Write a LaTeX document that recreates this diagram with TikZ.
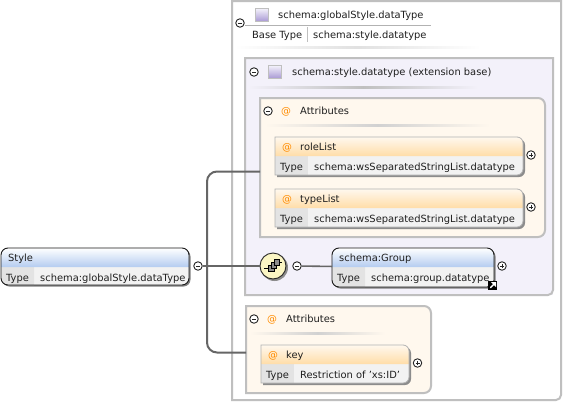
\documentclass[tikz,border=0pt]{standalone}
\usepackage{fontspec}
\setmainfont{DejaVu Sans}
\definecolor{headblue}{HTML}{B4CCF0}
\definecolor{headorange}{HTML}{FFDDA8}
\definecolor{attrfill}{HTML}{FFF8EE}
\definecolor{extfill}{HTML}{F3F1FA}
\definecolor{iconviolet}{HTML}{A898D4}
\definecolor{seqcream}{HTML}{FBF6C4}
\tikzset{
    x=1pt, y=-1pt,
    label/.style={inner sep=0pt, anchor=base west, yshift=-3.5pt, text=black!88, font=\fontsize{9.9}{11}\selectfont},
    atsign/.style={inner sep=0pt, anchor=base, yshift=-3.5pt, text=orange!90!yellow, font=\fontsize{9.9}{11}\selectfont},
    togglecirc/.style={circle, draw=black!85, fill=white, line width=0.9pt, minimum size=8.5pt, inner sep=0pt},
    boxnode/.style={inner sep=0pt, outer sep=0pt, anchor=north west},
    bus/.style={draw=black!60, line width=2pt},
    thinbus/.style={draw=black!60, line width=1.6pt},
    panel/.style={draw=black!25, line width=2pt},
}
\newcommand{\minusat}[2]{%
    \node[togglecirc] (#1) at (#2) {};
    \draw[black!85, line width=0.7pt] ([xshift=-2pt]#1.center) -- ([xshift=2pt]#1.center);
}
\newcommand{\plusat}[2]{%
    \node[togglecirc] (#1) at (#2) {};
    \draw[black!85, line width=0.7pt] ([xshift=-2pt]#1.center) -- ([xshift=2pt]#1.center);
    \draw[black!85, line width=0.7pt] ([yshift=-2pt]#1.center) -- ([yshift=2pt]#1.center);
}
\newcommand{\typeicon}[2]{%
    \node[boxnode, anchor=center, minimum size=13pt, draw=black!25, line width=0.6pt, top color=extfill, bottom color=iconviolet] (#1) at (#2) {};
}
% name, x, y, width, type cell width, title, value
\newcommand{\attrbox}[7]{%
    \begin{scope}[shift={(#2,#3)}]
        \fill[black!45] (2,2) [rounded corners=6pt] -- (#4+2,2) -- (#4+2,40) [sharp corners] -- (2,40) -- cycle;
        \fill[black!5] (0,19) -- (#4,19) [rounded corners=6pt] -- (#4,38) [sharp corners] -- (0,38) -- cycle;
        \fill[black!11] (0,19) rectangle (#5,38);
        \shade[top color=attrfill, bottom color=headorange] (0,0) [rounded corners=6pt] -- (#4,0) [sharp corners] -- (#4,19) -- (0,19) -- cycle;
        \draw[black!30, line width=0.8pt] (0,0) [rounded corners=6pt] -- (#4,0) -- (#4,38) [sharp corners] -- (0,38) -- cycle;
        \node[boxnode, minimum width=#4pt, minimum height=38pt] (#1) at (0,0) {};
        \node[atsign] (#1At) at (12,10) {@};
        \node[label] (#1Title) at (25,10) {#6};
        \node[label] (#1Type) at (5,29.5) {Type};
        \node[label] (#1Value) at (#5+6,29.5) {#7};
    \end{scope}
}
\newcommand{\elembox}[7]{%
    \begin{scope}[shift={(#2,#3)}]
        \fill[black!50, rounded corners=7pt] (1.5,1.5) rectangle (#4+1.5,#5+1.5);
        \fill[black!5, rounded corners=7pt] (0,0) rectangle (#4,#5);
        \fill[black!11] (0,19) -- (#6,19) -- (#6,#5) -- (7,#5) [rounded corners=7pt] -- (0,#5) [sharp corners] -- cycle;
        \shade[top color=white, bottom color=headblue] (0,19) [rounded corners=7pt] -- (0,0) -- (#4,0) [sharp corners] -- (#4,19) -- cycle;
        \draw[black!90, line width=0.9pt, rounded corners=7pt] (0,0) rectangle (#4,#5);
        \node[boxnode, minimum width=#4pt, minimum height=#5pt] (#1) at (0,0) {};
        \node[label] (#1Title) at (7,9.5) {#7};
    \end{scope}
}
\begin{document}
\begin{tikzpicture}
    \useasboundingbox (0,0) rectangle (563,402);
    \fill[white] (0,0) rectangle (563,402);

    % Outer panel
    \draw[panel] (232,1) -- (561,1) [rounded corners=5pt] -- (561,400) [sharp corners] -- (232,400) -- cycle;

    % Base type header
    \minusat{rootMinus}{240,23}
    \typeicon{rootIcon}{262,15}
    \node[label] (rootTitle) at (278,15) {schema:globalStyle.dataType};
    \draw[black!30, line width=0.7pt] (245,25) -- (431,25);
    \node[label] (baseLabel) at (252,35) {Base Type};
    \draw[black!25, line width=0.7pt] (307,27) -- (307,42);
    \node[label] (baseValue) at (313,35) {schema:style.datatype};
    \shade[left color=white, right color=white, middle color=black!12] (235,46) rectangle (480,48);

    % Extension base
    \fill[extfill] (245,58) rectangle (553,295);
    \draw[panel] (245,58) -- (553,58) [rounded corners=5pt] -- (553,295) [sharp corners] -- (245,295) -- cycle;
    \minusat{extMinus}{254,72}
    \typeicon{extIcon}{275,72}
    \node[label] (extTitle) at (292,72) {schema:style.datatype (extension base)};
    \shade[left color=extfill, right color=extfill, middle color=black!25] (248,86) rectangle (478,88);

    % Attributes
    \path[panel, fill=attrfill] (260,98) [rounded corners=7pt] -- (545,98) -- (545,237) [sharp corners] -- (260,237) -- cycle;
    \minusat{attrMinus}{268,111}
    \node[atsign] (attrAt) at (286,111) {@};
    \node[label] (attrTitle) at (300,111) {Attributes};
    \shade[left color=attrfill, right color=attrfill, middle color=black!18] (265,124) rectangle (490,126);

    \attrbox{roleList}{275}{137}{248}{33}{roleList}{schema:wsSeparatedStringList.datatype}
    \plusat{rolePlus}{531,155}
    \attrbox{typeList}{275}{189}{248}{33}{typeList}{schema:wsSeparatedStringList.datatype}
    \plusat{typePlus}{531,207}

    % Group reference
    \elembox{groupBox}{332}{248}{162}{39}{33}{schema:Group}
    \node[label] (groupType) at (337,277.5) {Type};
    \node[label] (groupValue) at (371,277.5) {schema:group.datatype};
    \plusat{groupPlus}{502,266}
    \node[boxnode, anchor=center, minimum size=9pt, fill=black] (groupLink) at (492.5,285) {};
    \fill[white] (490,288) -- (490,287) -- (493,284) -- (491,282) -- (496,282) -- (496,287) -- (494,285) -- (491,288) -- cycle;

    % Sequence
    \fill[black!45] (274.5,267.5) circle (13.5);
    \node[circle, draw=black!85, line width=0.9pt, fill=seqcream, minimum size=26pt, inner sep=0pt] (seqIcon) at (273,266) {};
    \begin{scope}[shift={(273,266)}]
        \draw[black, line width=0.8pt] (-9,2) -- (-5,2) (6,-4) -- (9,-4);
        \draw[black, fill=black!45, line width=0.6pt] (-5,-1) rectangle (1,5);
        \draw[black, fill=black!45, line width=0.6pt] (-2,-4) rectangle (3,2);
        \draw[black, fill=black!45, line width=0.6pt] (1,-7) rectangle (6,-1);
    \end{scope}
    \minusat{seqMinus}{297,266}

    % Second attributes
    \path[panel, fill=attrfill] (246,306) [rounded corners=7pt] -- (431,306) -- (431,393) [sharp corners] -- (246,393) -- cycle;
    \minusat{keysMinus}{254,319}
    \node[atsign] (keysAt) at (272,319) {@};
    \node[label] (keysTitle) at (286,319) {Attributes};
    \shade[left color=attrfill, right color=attrfill, middle color=black!18] (250,332) rectangle (385,334);
    \attrbox{keyAttr}{261}{345}{148}{33}{key}{Restriction of 'xs:ID'}
    \plusat{keyPlus}{417.5,363}

    % Root element
    \elembox{styleBox}{1}{248}{188}{37}{33}{Style}
    \node[label] (styleType) at (6,277.5) {Type};
    \node[label] (styleValue) at (40,277.5) {schema:globalStyle.dataType};
    \minusat{styleMinus}{198,266}

    % Connectors
    \coordinate (busJoint) at (207,266);
    \coordinate (busTop) at (260,171.5);
    \coordinate (busBottom) at (246,352.5);
    \draw[bus] (styleMinus) -- (seqIcon);
    \draw[bus, rounded corners=10pt] (busJoint) |- (busTop);
    \draw[bus, rounded corners=10pt] (busJoint) |- (busBottom);
    \draw[thinbus] (seqMinus) -- (groupBox);
\end{tikzpicture}
\end{document}
